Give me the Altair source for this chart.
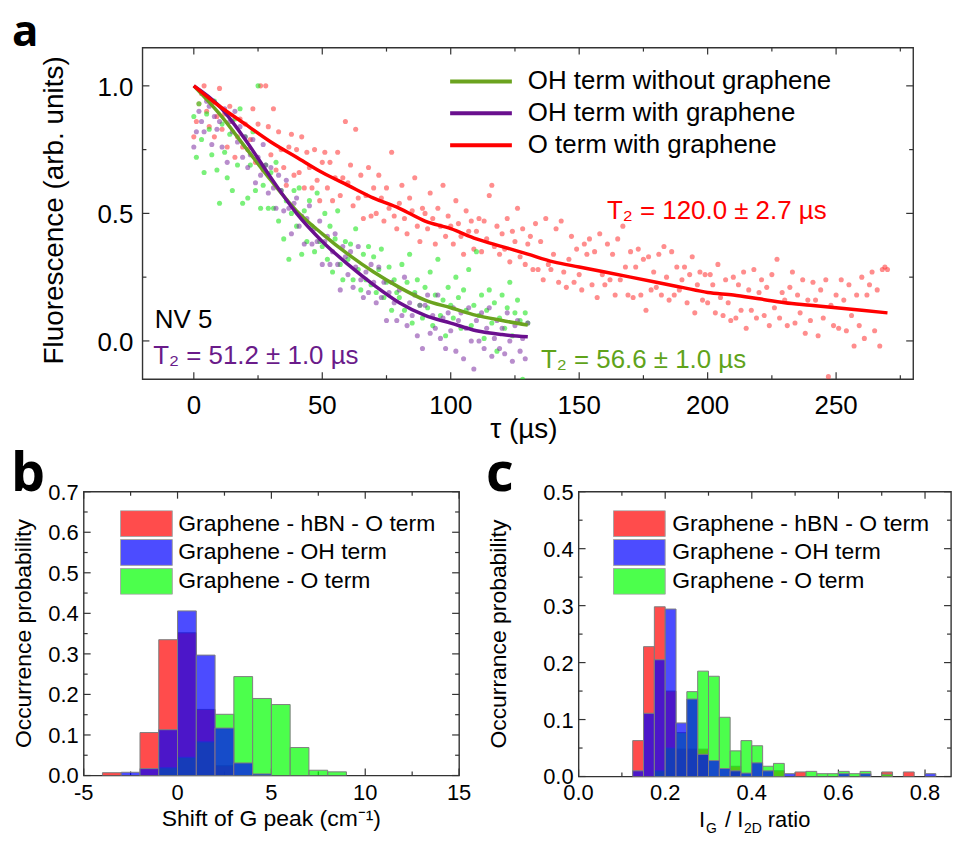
import altair as alt
import pandas as pd

FONT = "Liberation Sans"
LFONT = "Open Sans"

# ---------------- panel a : Hahn-echo decays ----------------
tau_short = list(range(0, 131))
oh_without_graphene = [
    0.88, 0.72, 0.93, 0.79, 0.66, 0.89, 0.83, 0.73, 0.94, 0.67,
    0.54, 0.85, 0.74, 0.64, 0.81, 0.59, 0.87, 0.69, 0.91, 0.54,
    0.80, 0.56, 0.69, 0.82, 0.59, 1.00, 0.52, 0.61, 0.69, 0.52,
    0.66, 0.52, 0.70, 0.47, 0.59, 0.40, 0.55, 0.32, 0.50, 0.59,
    0.45, 0.60, 0.34, 0.51, 0.39, 0.55, 0.45, 0.35, 0.58, 0.39,
    0.37, 0.50, 0.32, 0.45, 0.27, 0.40, 0.51, 0.30, 0.24, 0.39,
    0.32, 0.38, 0.24, 0.44, 0.28, 0.20, 0.34, 0.24, 0.37, 0.22,
    0.33, 0.19, 0.28, 0.36, 0.17, 0.23, 0.29, 0.12, 0.24, 0.19,
    0.17, 0.30, 0.12, 0.23, 0.34, 0.07, 0.19, 0.24, 0.14, 0.09,
    0.21, 0.13, 0.27, 0.06, 0.18, 0.32, 0.10, 0.16, 0.02, 0.21,
    0.14, 0.09, 0.25, 0.17, 0.05, 0.20, 0.12, 0.28, 0.06, 0.14,
    0.35, 0.10, 0.18, 0.01, 0.12, 0.20, 0.07, 0.15, -0.04, 0.09,
    0.18, 0.05, 0.13, 0.23, 0.02, 0.11, 0.16, 0.08, -0.15, 0.11, 0.07,
]
oh_with_graphene = [
    0.76, 0.82, 0.90, 0.86, 0.82, 0.94, 0.92, 0.77, 0.88, 0.83,
    0.86, 0.76, 0.91, 0.70, 0.86, 0.82, 0.90, 0.78, 0.84, 0.72,
    0.80, 0.68, 0.73, 0.79, 0.62, 0.72, 0.65, 0.77, 0.69, 0.58,
    0.68, 0.60, 0.52, 0.65, 0.59, 0.51, 0.63, 0.52, 0.42, 0.54,
    0.56, 0.45, 0.49, 0.38, 0.48, 0.53, 0.38, 0.44, 0.39, 0.47,
    0.30, 0.39, 0.41, 0.30, 0.35, 0.42, 0.30, 0.20, 0.37, 0.33,
    0.26, 0.35, 0.21, 0.29, 0.37, 0.24, 0.17, 0.27, 0.19, 0.30,
    0.23, 0.15, 0.29, 0.17, 0.23, 0.08, 0.19, 0.23, 0.15, 0.08,
    0.20, 0.10, 0.25, 0.06, 0.15, 0.10, 0.18, 0.02, 0.14, -0.03,
    0.14, 0.18, 0.03, 0.10, 0.05, 0.18, 0.01, 0.09, -0.03, 0.11,
    0.04, 0.13, -0.04, 0.08, 0.11, -0.07, 0.05, 0.13, 0.00, -0.11,
    0.08, 0.00, 0.11, -0.03, 0.05, 0.13, -0.06, 0.01, 0.08, -0.03,
    0.05, -0.05, 0.11, 0.00, -0.08, 0.06, 0.08, -0.04, 0.01, -0.07, 0.07,
]
tau_long = list(range(0, 271))
o_with_graphene = [
    0.80, 0.86, 0.93, 0.97, 1.00, 0.90, 0.84, 0.93, 0.80, 0.88,
    0.99, 0.83, 0.89, 0.76, 0.92, 0.86, 0.72, 0.80, 0.87, 0.76,
    0.85, 0.75, 0.79, 0.91, 0.70, 0.85, 1.00, 0.67, 1.00, 0.84,
    0.73, 0.91, 0.67, 0.82, 0.75, 0.68, 0.61, 0.76, 0.81, 0.65,
    0.75, 0.66, 0.80, 0.60, 0.74, 0.68, 0.60, 0.75, 0.63, 0.55,
    0.70, 0.74, 0.60, 0.70, 0.55, 0.64, 0.74, 0.57, 0.64, 0.86,
    0.62, 0.69, 0.53, 0.83, 0.56, 0.65, 0.48, 0.57, 0.68, 0.49,
    0.60, 0.50, 0.65, 0.56, 0.47, 0.60, 0.52, 0.74, 0.49, 0.44,
    0.54, 0.61, 0.48, 0.42, 0.56, 0.51, 0.64, 0.45, 0.39, 0.52,
    0.50, 0.44, 0.58, 0.48, 0.38, 0.52, 0.45, 0.61, 0.41, 0.49,
    0.45, 0.38, 0.55, 0.46, 0.41, 0.34, 0.51, 0.43, 0.47, 0.36,
    0.43, 0.48, 0.35, 0.47, 0.40, 0.57, 0.61, 0.37, 0.45, 0.34,
    0.42, 0.36, 0.48, 0.31, 0.43, 0.39, 0.52, 0.33, 0.44, 0.30,
    0.38, 0.41, 0.28, 0.46, 0.28, 0.39, 0.24, 0.48, 0.30, 0.28,
    0.34, 0.44, 0.23, 0.47, 0.27, 0.21, 0.32, 0.41, 0.23, 0.36,
    0.26, 0.20, 0.38, 0.34, 0.40, 0.22, 0.35, 0.17, 0.42, 0.26,
    0.22, 0.38, 0.24, 0.34, 0.18, 0.40, 0.24, 0.45, 0.29, 0.18,
    0.35, 0.17, 0.29, 0.36, 0.18, 0.32, 0.12, 0.33, 0.20, 0.27,
    0.21, 0.34, 0.18, 0.37, 0.25, 0.16, 0.35, 0.18, 0.29, 0.20,
    0.24, 0.29, 0.15, 0.26, 0.33, 0.11, 0.22, 0.27, 0.16, 0.26,
    0.15, 0.26, 0.22, 0.11, 0.30, 0.17, 0.10, 0.24, 0.15, 0.08,
    0.25, 0.09, 0.22, 0.12, 0.27, 0.05, 0.20, 0.12, 0.28, 0.09,
    0.19, 0.24, 0.10, 0.21, 0.06, 0.26, 0.13, 0.32, 0.09, 0.19,
    0.16, 0.06, 0.21, 0.27, 0.07, 0.18, 0.11, 0.24, 0.03, 0.16,
    0.08, 0.23, 0.16, 0.02, 0.20, 0.09, 0.24, -0.14, 0.14, 0.06,
    0.18, 0.05, 0.24, 0.16, 0.04, 0.22, 0.10, -0.02, 0.18, 0.06,
    0.25, 0.01, 0.18, 0.22, 0.27, 0.04, 0.20, -0.02, 0.28, 0.29,
    0.28,
]

fit_tau_short = list(range(0, 131, 10))
fit_oh_without = [1.00, 0.89, 0.76, 0.63, 0.51, 0.42, 0.34, 0.27, 0.21, 0.16, 0.13, 0.10, 0.08, 0.062]
fit_oh_with = [1.00, 0.92, 0.79, 0.64, 0.50, 0.39, 0.30, 0.22, 0.15, 0.10, 0.07, 0.04, 0.025, 0.016]
fit_tau_long = list(range(0, 271, 10))
fit_o_with = [1.00, 0.92, 0.85, 0.78, 0.72, 0.66, 0.61, 0.56, 0.52, 0.47, 0.44, 0.40, 0.37, 0.34,
              0.31, 0.29, 0.27, 0.25, 0.23, 0.21, 0.19, 0.18, 0.165, 0.15, 0.14, 0.13, 0.12, 0.11]

a_names = ["OH term without graphene", "OH term with graphene", "O term with graphene"]
a_line_colors = ["#6BA31F", "#6A0F8E", "#FF0000"]

a_xticks = [0, 50, 100, 150, 200, 250]
a_xtick_labels = ["0", "50", "100", "150", "200", "250"]
a_yticks = [0, 0.5, 1.0]
a_ytick_labels = ["0.0", "0.5", "1.0"]

# ---------------- panel b : G-peak shift histogram ----------------
b_bin_left = [-4, -3, -2, -1, 0, 1, 2, 3, 4, 5, 6, 7, 8]
b_hbn_o = [0.007, 0.0, 0.106, 0.335, 0.352, 0.163, 0.024, 0, 0, 0, 0, 0, 0]
b_oh = [0.0, 0.008, 0.017, 0.113, 0.406, 0.297, 0.117, 0.031, 0.004, 0, 0, 0, 0]
b_o = [0.0, 0.0, 0.0, 0.019, 0.045, 0.083, 0.151, 0.244, 0.190, 0.175, 0.069, 0.013, 0.009]
b_xticks = [-5, 0, 5, 10, 15]
b_xtick_labels = ["-5", "0", "5", "10", "15"]
b_yticks = [0, 0.1, 0.2, 0.3, 0.4, 0.5, 0.6, 0.7]
b_ytick_labels = ["0.0", "0.1", "0.2", "0.3", "0.4", "0.5", "0.6", "0.7"]

# ---------------- panel c : I_G / I_2D histogram ----------------
c_bin_left = [0.125 + 0.025 * i for i in range(28)]
c_hbn_o = [0.063, 0.228, 0.298, 0.150, 0.048, 0.048, 0.048, 0, 0, 0.018, 0, 0, 0, 0.010,
           0, 0.008, 0, 0, 0, 0, 0, 0, 0, 0.008, 0, 0.008, 0, 0]
c_oh = [0.010, 0.111, 0.205, 0.294, 0.094, 0.136, 0.039, 0.028, 0.014, 0.010, 0.006, 0.024, 0.010, 0,
        0.005, 0, 0, 0, 0, 0.005, 0, 0.005, 0, 0, 0, 0, 0, 0.005]
c_o = [0, 0, 0.010, 0.050, 0.077, 0.149, 0.185, 0.176, 0.104, 0.045, 0.063, 0.054, 0.018, 0.023,
       0, 0, 0.009, 0.005, 0.005, 0.009, 0.005, 0.009, 0, 0.004, 0, 0, 0, 0]
c_xticks = [0, 0.2, 0.4, 0.6, 0.8]
c_xtick_labels = ["0.0", "0.2", "0.4", "0.6", "0.8"]
c_yticks = [0, 0.1, 0.2, 0.3, 0.4, 0.5]
c_ytick_labels = ["0.0", "0.1", "0.2", "0.3", "0.4", "0.5"]

hist_names = ["Graphene - hBN - O term", "Graphene - OH term", "Graphene - O term"]
hist_colors = ["#FF0000", "#0000FF", "#00FF00"]

TICK = "#333333"


def tick_layers(xs, ys, xmaj, xmin, ymaj, ymin, W, H):
    """Inward ticks on all four sides of the frame (major 7 px, minor 4 px)."""
    layers = []
    for vals, L in ((xmaj, 7), (xmin, 4)):
        df = pd.DataFrame({"v": vals})
        base = alt.Chart(df).mark_rule(color=TICK, strokeWidth=1.2)
        layers.append(base.encode(x=alt.X("v:Q", scale=xs, axis=None),
                                  y=alt.value(H), y2=alt.value(H - L)))
        layers.append(base.encode(x=alt.X("v:Q", scale=xs, axis=None),
                                  y=alt.value(0), y2=alt.value(L)))
    for vals, L in ((ymaj, 7), (ymin, 4)):
        df = pd.DataFrame({"v": vals})
        base = alt.Chart(df).mark_rule(color=TICK, strokeWidth=1.2)
        layers.append(base.encode(y=alt.Y("v:Q", scale=ys, axis=None),
                                  x=alt.value(0), x2=alt.value(L)))
        layers.append(base.encode(y=alt.Y("v:Q", scale=ys, axis=None),
                                  x=alt.value(W), x2=alt.value(W - L)))
    return layers


def x_labels(vals, texts, xs, y, size):
    df = pd.DataFrame({"v": vals, "t": texts})
    return alt.Chart(df).mark_text(align="center", baseline="alphabetic", fontSize=size,
                                   font=FONT, color="black").encode(
        x=alt.X("v:Q", scale=xs, axis=None), y=alt.value(y), text="t:N")


def y_labels(vals, texts, ys, x, dy, size):
    df = pd.DataFrame({"v": vals, "t": texts})
    return alt.Chart(df).mark_text(align="right", baseline="alphabetic", fontSize=size, dy=dy,
                                   font=FONT, color="black").encode(
        y=alt.Y("v:Q", scale=ys, axis=None), x=alt.value(x), text="t:N")


def title_text(t, x, y, size, angle=0):
    return alt.Chart(pd.DataFrame({"t": [t]})).mark_text(
        align="center", baseline="alphabetic", fontSize=size, angle=angle,
        font=FONT, color="black").encode(x=alt.value(x), y=alt.value(y), text="t:N")


def piece(t, x, y, size):
    return alt.Chart(pd.DataFrame({"t": [t]})).mark_text(
        align="left", baseline="alphabetic", fontSize=size, font=FONT, color="black").encode(
        x=alt.value(x), y=alt.value(y), text="t:N")


def letter(ch, x, y, size):
    return alt.Chart(pd.DataFrame({"t": [ch]})).mark_text(
        align="left", baseline="alphabetic", fontSize=size, fontWeight="bold",
        font=LFONT, color="black").encode(x=alt.value(x), y=alt.value(y), text="t:N")


# ======== panel a ========
WA, HA = 774, 333
xa = alt.Scale(domain=[-20, 280], nice=False, zero=False)
ya = alt.Scale(domain=[-0.15, 1.15], nice=False, zero=False)


def pts(x, y, color, opacity):
    df = pd.DataFrame({"tau": x, "f": y})
    return alt.Chart(df).mark_circle(size=26, color=color, opacity=opacity, clip=True).encode(
        x=alt.X("tau:Q", scale=xa, axis=None), y=alt.Y("f:Q", scale=ya, axis=None))


def ann(text, x, y, color):
    df = pd.DataFrame({"tau": [x], "f": [y], "t": [text]})
    return alt.Chart(df).mark_text(align="left", baseline="alphabetic", fontSize=26,
                                   font=FONT, color=color).encode(
        x=alt.X("tau:Q", scale=xa, axis=None), y=alt.Y("f:Q", scale=ya, axis=None), text="t:N")


line_df = pd.DataFrame({
    "tau": fit_tau_short + fit_tau_short + fit_tau_long,
    "f": fit_oh_without + fit_oh_with + fit_o_with,
    "series": [a_names[0]] * len(fit_tau_short) + [a_names[1]] * len(fit_tau_short)
    + [a_names[2]] * len(fit_tau_long),
})
lines_a = alt.Chart(line_df).mark_line(strokeWidth=3.5, interpolate="monotone").encode(
    x=alt.X("tau:Q", scale=xa, axis=None),
    y=alt.Y("f:Q", scale=ya, axis=None),
    color=alt.Color("series:N", scale=alt.Scale(domain=a_names, range=a_line_colors),
                    legend=alt.Legend(title=None, orient="none", legendX=366, legendY=20,
                                      symbolType="stroke", symbolSize=3844, symbolStrokeWidth=4,
                                      labelFontSize=26, labelFont=FONT, labelOffset=14,
                                      clipHeight=28, rowPadding=4, padding=0, labelLimit=600)),
)

panel_a = alt.layer(
    *tick_layers(xa, ya, a_xticks, [25, 75, 125, 175, 225, 275],
                 a_yticks, [0.25, 0.75], WA, HA),
    pts(tau_long, o_with_graphene, "#FF3030", 0.55),
    pts(tau_short, oh_without_graphene, "#22E622", 0.6),
    pts(tau_short, oh_with_graphene, "#7D2FA3", 0.55),
    lines_a,
    ann("NV 5", -15.2, 0.05, "black"),
    ann("T₂ = 51.2 ± 1.0 µs", -15.8, -0.092, "#6A1B8A"),
    ann("T₂ = 56.6 ± 1.0 µs", 135.1, -0.105, "#5FA31A"),
    ann("T₂ = 120.0 ± 2.7 µs", 160.8, 0.477, "#FF0000"),
    x_labels(a_xticks, a_xtick_labels, xa, HA + 35, 26),
    y_labels(a_yticks, a_ytick_labels, ya, -9, 10, 26),
    title_text("τ (µs)", 383, HA + 59, 28),
    title_text("Fluorescence (arb. units)", -80, HA / 2 - 3, 28, angle=270),
    letter("a", -131, -2, 44),
).properties(width=WA, height=HA)

# invisible spacer that shifts panel a to the right of panel b's frame
spacer = alt.Chart(pd.DataFrame({"s": [0]})).mark_point(opacity=0).encode(
    x=alt.value(0), y=alt.value(0)
).properties(width=59, height=HA, view=alt.ViewBackground(stroke="transparent"))


# ======== histogram panels ========
def hist_df(left, width, red, blue, green):
    rows = []
    for name, vals in ((hist_names[0], red), (hist_names[2], green), (hist_names[1], blue)):
        for lo, v in zip(left, vals):
            if v > 0:
                rows.append({"lo": lo, "hi": lo + width, "p": v, "series": name})
    return pd.DataFrame(rows)


def hist_legend(lx, ly, off):
    return alt.Legend(title=None, orient="none", legendX=lx, legendY=ly,
                      symbolType="M-1,-0.5H1V0.5H-1Z", symbolSize=2704,
                      symbolStrokeColor="#7f7f7f", symbolStrokeWidth=1, symbolOpacity=0.7,
                      labelFontSize=23, labelFont=FONT, labelOffset=off,
                      clipHeight=27, rowPadding=2, padding=0, labelLimit=600)


def bars(df, xs, ys, legend):
    return alt.Chart(df).mark_bar(stroke="#7f7f7f", strokeWidth=1, fillOpacity=0.7,
                                  clip=True).encode(
        x=alt.X("lo:Q", scale=xs, axis=None), x2="hi:Q",
        y=alt.Y("p:Q", scale=ys, axis=None, stack=None), y2=alt.datum(0),
        color=alt.Color("series:N", scale=alt.Scale(domain=hist_names, range=hist_colors),
                        legend=legend),
    )


# ---- panel b ----
WB, HB = 377, 285
xb = alt.Scale(domain=[-5, 15], nice=False, zero=False)
yb = alt.Scale(domain=[0, 0.7], nice=False, zero=False)
panel_b = alt.layer(
    *tick_layers(xb, yb, b_xticks, [-2.5, 2.5, 7.5, 12.5],
                 b_yticks, [0.05, 0.15, 0.25, 0.35, 0.45, 0.55, 0.65], WB, HB),
    bars(hist_df(b_bin_left, 1, b_hbn_o, b_oh, b_o), xb, yb, hist_legend(36.5, 18.5, 5.5)),
    x_labels(b_xticks, b_xtick_labels, xb, HB + 25, 22),
    y_labels(b_yticks, b_ytick_labels, yb, -5, 8, 22),
    title_text("Shift of G peak (cm⁻¹)", 188.5, HB + 51, 23),
    title_text("Occurrence probability", -53, HB / 2, 23, angle=270),
    letter("b", -73, -1, 54),
).properties(width=WB, height=HB)

# ---- panel c ----
WC, HC = 374, 286
xc = alt.Scale(domain=[0, 0.86], nice=False, zero=False)
yc = alt.Scale(domain=[0, 0.5], nice=False, zero=False)
panel_c = alt.layer(
    *tick_layers(xc, yc, c_xticks, [0.1, 0.3, 0.5, 0.7],
                 c_yticks, [0.05, 0.15, 0.25, 0.35, 0.45], WC, HC),
    bars(hist_df(c_bin_left, 0.025, c_hbn_o, c_oh, c_o), xc, yc, hist_legend(34.5, 18.5, 6.5)),
    x_labels(c_xticks, c_xtick_labels, xc, HC + 24, 22),
    y_labels(c_yticks, c_ytick_labels, yc, -5, 8, 22),
    title_text("Occurrance probability", -73, HC / 2, 23, angle=270),
    piece("I", 121, HC + 51, 22),
    piece("G", 128, HC + 57, 14),
    piece("/ I", 147, HC + 51, 22),
    piece("2D", 166, HC + 57, 14),
    piece("ratio", 190, HC + 51, 22),
    letter("c", -93, -1, 54),
).properties(width=WC, height=HC)

row_a = alt.hconcat(spacer, panel_a, spacing=0, bounds="flush")
row_bc = alt.hconcat(panel_b, panel_c, spacing=13).resolve_scale(
    x="independent", y="independent", color="independent").resolve_legend(color="independent")

chart = alt.vconcat(row_a, row_bc, spacing=2).resolve_scale(
    x="independent", y="independent", color="independent").resolve_legend(
    color="independent").properties(
    padding={"left": 2, "top": 0, "right": 0, "bottom": 0}
).configure_view(stroke="#333333", strokeWidth=1.4)

chart.save("out.html", embed_options={"renderer": "svg", "actions": False})
